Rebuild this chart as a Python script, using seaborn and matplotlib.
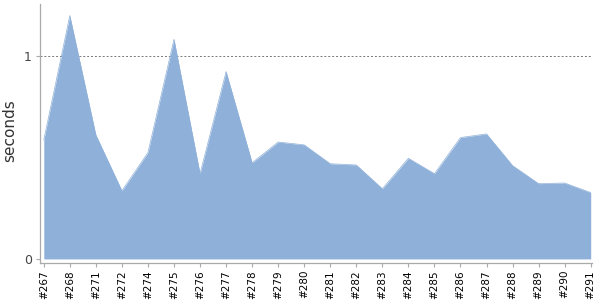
import matplotlib
matplotlib.use("Agg")
import matplotlib.pyplot as plt
import seaborn as sns
import pandas as pd
import numpy as np

builds = ["#267", "#268", "#271", "#272", "#274", "#275", "#276", "#277", "#278",
          "#279", "#280", "#281", "#282", "#283", "#284", "#285", "#286", "#287",
          "#288", "#289", "#290", "#291"]
seconds = [0.586, 1.199, 0.611, 0.336, 0.524, 1.082, 0.42, 0.923, 0.474,
           0.576, 0.562, 0.469, 0.463, 0.346, 0.496, 0.42, 0.598, 0.616,
           0.46, 0.371, 0.374, 0.327]

sns.set_style("white")
plt.rcParams['font.family'] = ['DejaVu Sans']

df = pd.DataFrame({"build": builds, "seconds": seconds})
df["pos"] = np.arange(len(df))

fig = plt.figure(figsize=(6, 3), dpi=100)
ax = fig.add_axes([40/600, 1 - 263/300, 552/600, 259/300])

fill_color = "#8fb1d9"
sns.lineplot(data=df, x="pos", y="seconds", ax=ax, color=fill_color, linewidth=0.5)
ax.fill_between(df["pos"], 0, df["seconds"], color=fill_color, linewidth=0)

ax.axhline(1, color="#777777", linestyle=(0, (2, 2)), linewidth=0.7, zorder=0)

n = len(df)
ax.set_xlim(-0.145, n - 1 + 0.05)
ax.set_ylim(-0.02, 1.256)

ax.set_xticks(df["pos"])
ax.set_xticklabels(df["build"], rotation=90, fontsize=7.5, color="black")
ax.set_yticks([0, 1])
ax.set_yticklabels(["0", "1"], fontsize=9, color="#444444")

ax.tick_params(axis="x", bottom=True, length=3, width=0.8, color="#aaaaaa", pad=2)
ax.tick_params(axis="y", left=True, length=3, width=0.8, color="#aaaaaa", pad=3)

for s in ["top", "right"]:
    ax.spines[s].set_visible(False)
for s in ["left", "bottom"]:
    ax.spines[s].set_color("#aaaaaa")
    ax.spines[s].set_linewidth(0.9)

ax.set_xlabel("")
ax.set_ylabel("seconds", fontsize=11, color="#333333")
ax.yaxis.set_label_coords(-0.042, 0.512)

fig.savefig("out.png", dpi=100)
